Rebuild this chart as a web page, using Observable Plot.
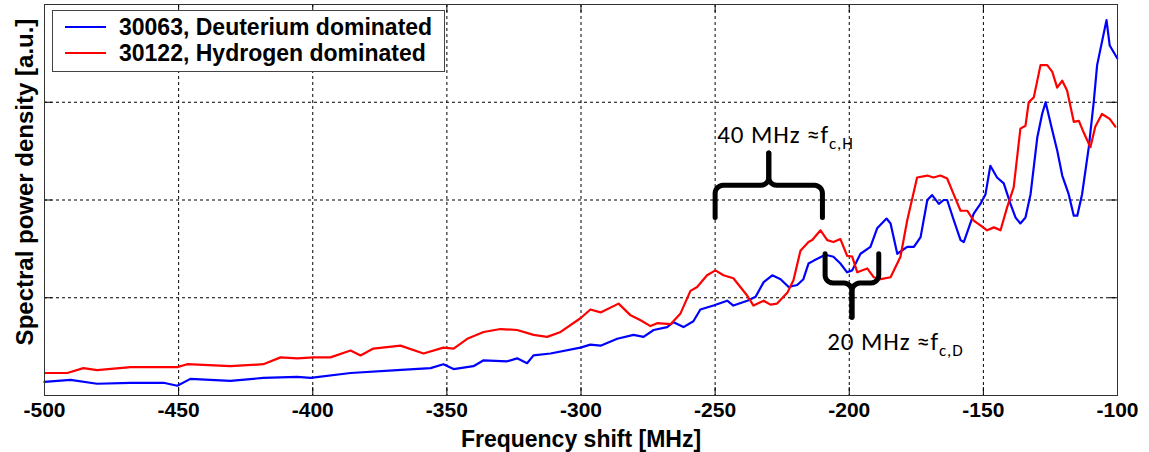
<!DOCTYPE html>
<html><head><meta charset="utf-8">
<script src="https://cdn.jsdelivr.net/npm/d3@7"></script>
<script src="https://cdn.jsdelivr.net/npm/@observablehq/plot@0.6"></script>
<style>
body{margin:0;background:#fff;}
#wrap{position:relative;width:1149px;height:452px;overflow:hidden;}
#legend{position:absolute;left:52px;top:10px;width:391px;height:60px;border:1px solid #444;background:#fff;font-family:"Liberation Sans",Arial,sans-serif;font-weight:bold;font-size:23px;color:#000;}
#legend .row{position:absolute;left:0;height:26px;width:100%;}
#legend .sw{position:absolute;left:12px;top:12px;width:41px;height:2px;}
#legend .lab{position:absolute;left:66px;top:0;line-height:26px;white-space:nowrap;}
</style>
</head><body>
<div id="wrap"><div id="chart"></div><div id="legend"></div></div>
<script>
// ---- data ----
const xTicks = [-500, -450, -400, -350, -300, -250, -200, -150, -100];
const yTicks = [0, 1, 2, 3, 4];

const seriesNames = ["30063, Deuterium dominated", "30122, Hydrogen dominated"];
const seriesColors = ["#0000ff", "#ff0000"];

const blueFreq = [-500,-490.3,-480.4,-467.9,-455.6,-450.5,-445.6,-430.7,-418.4,-405.8,-400.8,-385.9,-368.5,-356.1,-351.3,-347.5,-340.1,-336.3,-327.5,-323.8,-320.1,-317.7,-311.4,-300.2,-296.5,-292.7,-286.5,-280.4,-276.7,-272.9,-267.9,-265.5,-261.8,-258.1,-255.5,-250.6,-245.5,-243.2,-238.0,-234.9,-231.9,-228.7,-225.6,-222.6,-219.4,-217.1,-215.2,-213.2,-208.9,-205.9,-203.3,-200.8,-198.9,-195.8,-192.1,-189.6,-186.1,-184.6,-182.1,-178.4,-175.9,-173.4,-170.9,-169.1,-166.6,-164.8,-163.5,-161.0,-158.5,-157.3,-153.6,-151.1,-149.2,-147.4,-144.9,-142.4,-139.9,-138.0,-136.2,-134.3,-132.4,-129.9,-128.1,-126.8,-124.3,-122.5,-120.6,-118.2,-116.3,-115.0,-113.2,-110.7,-108.8,-107.6,-104.1,-102.9,-100.1];
const blueVal = [0.14,0.16,0.12,0.13,0.13,0.10,0.17,0.15,0.18,0.19,0.18,0.23,0.26,0.28,0.32,0.27,0.30,0.36,0.35,0.38,0.33,0.41,0.43,0.49,0.52,0.51,0.58,0.62,0.60,0.67,0.70,0.75,0.70,0.76,0.88,0.92,0.97,0.92,0.97,1.01,1.16,1.23,1.19,1.11,1.13,1.19,1.35,1.38,1.44,1.42,1.35,1.26,1.28,1.45,1.52,1.71,1.81,1.76,1.45,1.52,1.52,1.62,2.00,2.05,1.96,2.00,2.00,1.79,1.59,1.57,1.86,1.96,2.06,2.35,2.23,2.17,1.96,1.82,1.76,1.82,2.06,2.64,2.88,3.00,2.71,2.51,2.25,2.06,1.84,1.84,2.06,2.54,3.02,3.38,3.84,3.58,3.45];

const redFreq = [-499.6,-491.5,-485.5,-480.4,-467.9,-455.6,-450.5,-446.8,-430.7,-418.4,-412.0,-405.8,-399.7,-393.4,-385.9,-382.2,-377.4,-367.3,-358.7,-351.3,-347.5,-342.4,-336.3,-330.0,-323.8,-317.7,-312.6,-307.6,-300.2,-296.5,-292.7,-286.0,-281.5,-277.8,-274.1,-271.6,-266.6,-262.9,-259.2,-256.7,-253.0,-249.9,-246.9,-243.2,-238.0,-235.7,-231.9,-229.4,-226.9,-223.1,-220.8,-218.2,-215.2,-213.8,-210.7,-208.2,-205.9,-203.3,-200.8,-198.9,-197.0,-193.3,-190.9,-188.3,-184.6,-180.9,-178.4,-174.7,-170.9,-168.6,-166.0,-163.5,-161.1,-158.5,-156.0,-153.6,-151.1,-148.6,-146.1,-143.6,-141.1,-138.7,-136.2,-134.3,-133.1,-131.2,-128.7,-126.2,-124.3,-122.5,-120.6,-118.8,-116.3,-114.4,-112.6,-110.1,-108.3,-105.8,-102.9,-100.8];
const redVal = [0.23,0.23,0.28,0.26,0.29,0.29,0.29,0.32,0.30,0.32,0.39,0.38,0.39,0.39,0.46,0.41,0.48,0.51,0.43,0.49,0.48,0.58,0.65,0.68,0.67,0.62,0.60,0.65,0.79,0.88,0.85,0.94,0.82,0.77,0.71,0.74,0.73,0.84,1.07,1.11,1.23,1.28,1.23,1.20,1.02,0.92,0.97,0.93,0.94,1.05,1.18,1.48,1.57,1.59,1.69,1.59,1.57,1.60,1.43,1.42,1.26,1.30,1.21,1.19,1.21,1.42,1.79,2.23,2.25,2.23,2.25,2.22,2.06,1.89,1.89,1.79,1.74,1.69,1.72,1.69,1.93,2.13,2.73,2.76,3.00,3.05,3.38,3.38,3.31,3.15,3.22,3.12,2.80,2.81,2.69,2.54,2.75,2.88,2.83,2.75];

// annotation braces (frequency extents and levels) and labels
const braceIds = ["H", "D"];
const braceX1 = [-250, -209];
const braceX2 = [-210, -189];
const braceEnd = [1.82, 1.45];
const braceBar = [2.15, 1.15];
const braceTip = [2.48, 0.80];
const annoText = ["40 MHz \u2248f", "20 MHz \u2248f"];
const annoSub = ["c,H", "c,D"];
const annoX = [-249.2, -208.2];
const annoY = [2.66, 0.55];

// ---- build tables ----
const blueRows = blueFreq.map((f, i) => ({f, v: blueVal[i]}));
const redRows = redFreq.map((f, i) => ({f, v: redVal[i]}));

const braceRows = [];
braceIds.forEach((id, j) => {
  const x1 = braceX1[j], x2 = braceX2[j], end = braceEnd[j], bar = braceBar[j], tip = braceTip[j];
  const s = bar > end ? 1 : -1, rx = 3, ry = 0.08, xc = (x1 + x2) / 2;
  const half = [[x1, end]];
  for (let k = 0; k <= 6; k++) { const t = Math.PI - k * Math.PI / 12; half.push([x1 + rx + rx * Math.cos(t), bar - s * ry + s * ry * Math.sin(t)]); }
  for (let k = 0; k <= 6; k++) { const t = -Math.PI / 2 + k * Math.PI / 12; half.push([xc - rx + rx * Math.cos(t), bar + s * ry + s * ry * Math.sin(t)]); }
  half.push([xc, tip]);
  half.forEach(([x, y]) => braceRows.push({part: id + "L", x, y}));
  half.forEach(([x, y]) => braceRows.push({part: id + "R", x: x1 + x2 - x, y}));
});
const annoRows = annoText.map((t, i) => ({t, sub: annoSub[i], x: annoX[i], y: annoY[i]}));

const chart = Plot.plot({
  width: 1149, height: 452,
  marginLeft: 44, marginRight: 32, marginTop: 4, marginBottom: 57,
  x: {domain: [-500, -100]},
  y: {domain: [0, 4], axis: null},
  style: {background: "white", fontFamily: "'Liberation Sans', Arial, sans-serif", color: "#000", overflow: "visible"},
  marks: [
    Plot.ruleX(xTicks.slice(1, -1), {stroke: "#000", strokeWidth: 1, strokeDasharray: "3,3"}),
    Plot.ruleY(yTicks.slice(1, -1), {stroke: "#000", strokeWidth: 1, strokeDasharray: "3,3"}),
    Plot.tickX(xTicks, {x: d => d, insetTop: 383, stroke: "#000"}),
    Plot.tickX(xTicks, {x: d => d, insetBottom: 383, stroke: "#000"}),
    Plot.tickY(yTicks, {y: d => d, insetRight: 1065, stroke: "#000"}),
    Plot.tickY(yTicks, {y: d => d, insetLeft: 1065, stroke: "#000"}),
    Plot.line(blueRows, {x: "f", y: "v", stroke: seriesColors[0], strokeWidth: 2.2}),
    Plot.line(redRows, {x: "f", y: "v", stroke: seriesColors[1], strokeWidth: 2.2}),
    Plot.line(braceRows, {x: "x", y: "y", z: "part", stroke: "#000", strokeWidth: 5, strokeLinejoin: "round"}),
    Plot.text(annoRows, {x: "x", y: "y", text: "t", textAnchor: "start", fontSize: 25, fontFamily: "Carlito, Lato, 'Open Sans', sans-serif", fill: "#000"}),
    Plot.axisX({ticks: xTicks, tickSize: 0, tickPadding: 7, tickFormat: d => String(d), fontSize: 21, fontWeight: "bold", label: null}),
    Plot.text(["Frequency shift [MHz]"], {text: d => d, frameAnchor: "bottom", textAnchor: "middle", dy: 51, lineAnchor: "bottom", fontSize: 23, fontWeight: "bold"}),
    Plot.text(["Spectral power density [a.u.]"], {text: d => d, frameAnchor: "left", textAnchor: "middle", dx: -12, dy: -18, rotate: -90, lineAnchor: "bottom", fontSize: 24, fontWeight: "bold"}),
    Plot.frame({stroke: "#333", strokeWidth: 1})
  ]
});
document.getElementById("chart").appendChild(chart);

// subscripts on annotation labels
chart.querySelectorAll("text").forEach(el => {
  const i = annoText.indexOf(el.textContent);
  if (i >= 0) {
    el.style.letterSpacing = "0.9px";
    const ts = document.createElementNS("http://www.w3.org/2000/svg", "tspan");
    ts.setAttribute("dy", "6");
    ts.setAttribute("font-size", "17");
    ts.textContent = annoSub[i];
    el.appendChild(ts);
  }
});

// legend
const legend = document.getElementById("legend");
seriesNames.forEach((name, i) => {
  const row = document.createElement("div");
  row.className = "row";
  row.style.top = (3 + i * 26) + "px";
  const sw = document.createElement("div");
  sw.className = "sw"; sw.style.background = seriesColors[i];
  const lab = document.createElement("div");
  lab.className = "lab"; lab.textContent = name;
  row.appendChild(sw); row.appendChild(lab);
  legend.appendChild(row);
});
</script>
</body></html>
